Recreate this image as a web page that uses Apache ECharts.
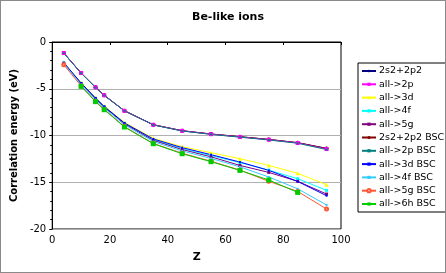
<!DOCTYPE html>
<html><head><meta charset="utf-8">
<script src="https://cdn.jsdelivr.net/npm/echarts@6/dist/echarts.min.js"></script>
<style>
html,body{margin:0;padding:0;background:#fff;}
#c{width:446px;height:273px;box-sizing:border-box;border:1px solid #8a8a8a;}
</style></head>
<body><div id="c"></div>
<script>
const Z = [4, 10, 15, 18, 25, 35, 45, 55, 65, 75, 85, 95];
const xTicks = [0, 20, 40, 60, 80, 100];
const yTicks = [0, -5, -10, -15, -20];
const s_2s2_2p2     = [-1.18, -3.32, -4.85, -5.70, -7.35, -8.85, -9.49, -9.84, -10.13, -10.42, -10.77, -11.38];
const s_all2p       = [-1.18, -3.32, -4.85, -5.70, -7.36, -8.86, -9.50, -9.86, -10.16, -10.45, -10.80, -11.45];
const s_all3d       = [-2.20, -4.35, -5.95, -6.85, -8.60, -10.30, -11.20, -11.84, -12.48, -13.20, -14.05, -15.26];
const s_all4f       = [-2.25, -4.42, -6.02, -6.93, -8.70, -10.45, -11.40, -12.15, -12.90, -13.70, -14.62, -15.87];
const s_all5g       = [-2.28, -4.45, -6.06, -6.97, -8.75, -10.52, -11.50, -12.28, -13.20, -13.95, -14.90, -16.26];
const s_2s2_2p2_bsc = [-1.18, -3.32, -4.85, -5.70, -7.35, -8.85, -9.49, -9.84, -10.13, -10.42, -10.77, -11.38];
const s_all2p_bsc   = [-1.20, -3.34, -4.87, -5.72, -7.37, -8.87, -9.52, -9.88, -10.18, -10.48, -10.83, -11.50];
const s_all3d_bsc   = [-2.20, -4.39, -5.99, -6.89, -8.66, -10.37, -11.30, -12.05, -12.84, -13.73, -14.91, -16.44];
const s_all4f_bsc   = [-2.30, -4.55, -6.15, -7.05, -8.85, -10.65, -11.65, -12.45, -13.35, -14.44, -15.70, -17.43];
const s_all5g_bsc   = [-2.43, -4.70, -6.35, -7.20, -9.05, -10.85, -11.90, -12.75, -13.70, -14.90, -15.98, -17.86];
const s_all6h_bsc   = [null, -4.75, -6.38, -7.24, -9.09, -10.88, -11.95, -12.80, -13.73, -14.76, -16.09, null];

const names = ['2s2+2p2','all->2p','all->3d','all->4f','all->5g','2s2+2p2 BSC','all->2p BSC','all->3d BSC','all->4f BSC','all->5g BSC','all->6h BSC'];
const values = [s_2s2_2p2, s_all2p, s_all3d, s_all4f, s_all5g, s_2s2_2p2_bsc, s_all2p_bsc, s_all3d_bsc, s_all4f_bsc, s_all5g_bsc, s_all6h_bsc];
const colors = ['#000080','#ff00ff','#ffff00','#00ffff','#800080','#800000','#008080','#0000ff','#33ccff','#ff5533','#00cc00'];
const symbols = ['diamond','rect','triangle','rect','rect','circle','rect','rect','rect','emptyCircle','rect'];
const sizes = [4,4,4,3,3,4,2,2,2,3,5];

const font = 'DejaVu Sans';
const series = names.map((n,i)=>({
  name:n, type:'line',
  data: Z.map((z,j)=>[z, values[i][j]]),
  color: colors[i],
  symbol: symbols[i], symbolSize: sizes[i],
  lineStyle:{width:1, color: colors[i]},
  itemStyle:{color: colors[i]},
  connectNulls:false,
  animation:false
}));
const order = [2,3,4,7,8,9,10,0,5,1,6];
const chart = echarts.init(document.getElementById('c'));
chart.setOption({
  animation:false,
  title:{text:'Be-like ions', left:222, top:6, textAlign:'center',
    textStyle:{fontFamily:font, fontSize:11, fontWeight:'bold', color:'#000'}},
  grid:{left:45, top:41, width:295, height:187, show:true, borderColor:'#000', borderWidth:1, backgroundColor:'#fff'},
  xAxis:{type:'value', min:xTicks[0], max:xTicks[xTicks.length-1], interval:20,
    name:'Z', nameLocation:'middle', nameGap:23,
    nameTextStyle:{fontFamily:font, fontSize:11, fontWeight:'bold', color:'#000'},
    axisLine:{lineStyle:{color:'#000'}},
    axisTick:{show:true, length:3, lineStyle:{color:'#000'}},
    axisLabel:{fontFamily:font, fontSize:10, color:'#000', margin:6},
    splitLine:{show:false}},
  yAxis:{type:'value', min:yTicks[yTicks.length-1], max:yTicks[0], interval:5,
    name:'Correlation energy (eV)', nameLocation:'middle', nameGap:32,
    nameTextStyle:{fontFamily:font, fontSize:10, fontWeight:'bold', color:'#000'},
    axisLine:{lineStyle:{color:'#000'}},
    axisTick:{show:true, length:3, lineStyle:{color:'#000'}},
    minorTick:{show:true, splitNumber:5, length:2, lineStyle:{color:'#000'}},
    axisLabel:{fontFamily:font, fontSize:10, color:'#000', margin:6},
    splitLine:{show:true, lineStyle:{color:'#b0b0b0', width:1}}},
  legend:{orient:'vertical', left:357, top:62, width:88,
    data:names, itemWidth:14, itemHeight:4, itemGap:3.3,
    padding:[3,4,3,3],
    borderColor:'#000', borderWidth:1, backgroundColor:'#fff',
    textStyle:{fontFamily:font, fontSize:9.5, color:'#000', padding:[0,0,0,-2]}},
  series: order.map(i=>series[i])
});
</script></body></html>
